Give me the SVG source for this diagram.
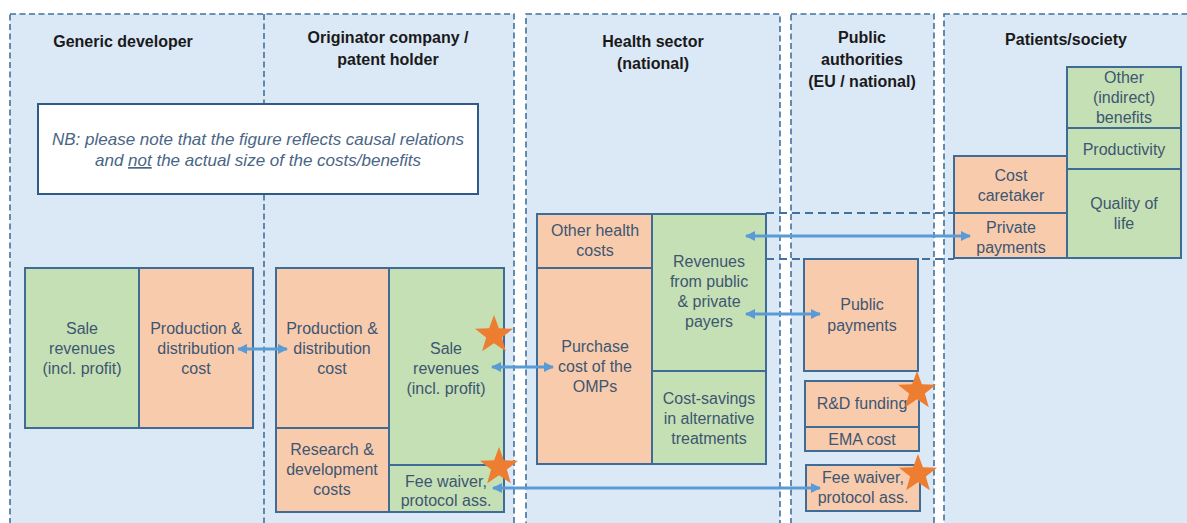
<svg xmlns="http://www.w3.org/2000/svg" width="1187" height="523" viewBox="0 0 1187 523">
<style>
.panel{fill:#dbe8f6;stroke:#41719c;stroke-width:1.6;stroke-dasharray:6 3.5}
.div{fill:none;stroke:#41719c;stroke-width:1.6;stroke-dasharray:6 3.5}
.dr{fill:none;stroke:#41719c;stroke-width:2;stroke-dasharray:8 5}
.g{fill:#c5e0b4;stroke:#3f6c96;stroke-width:2}
.o{fill:#f8cbad;stroke:#3f6c96;stroke-width:2}
.h{font-family:"Liberation Sans",Arial,sans-serif;font-size:16px;font-weight:bold;fill:#1a1a1a;text-anchor:middle}
.t{font-family:"Liberation Sans",Arial,sans-serif;font-size:16px;fill:#3d5672;text-anchor:middle}
.nb{font-family:"Liberation Sans",Arial,sans-serif;font-size:17px;font-style:italic;fill:#4a6585;text-anchor:middle}
.c{fill:none;stroke:#5b9bd5;stroke-width:3;marker-start:url(#ah);marker-end:url(#ah)}
.star{fill:#ed7d31}
</style>
<defs>
<marker id="ah" viewBox="0 0 10 10" refX="9" refY="5" markerUnits="userSpaceOnUse" markerWidth="11" markerHeight="10" orient="auto-start-reverse">
<path d="M0,0 L10,5 L0,10 z" fill="#5b9bd5"/>
</marker>
<polygon id="st" points="0,-20 4.9,-6.7 19,-6.2 7.9,2.6 11.8,16.2 0,8.3 -11.8,16.2 -7.9,2.6 -19,-6.2 -4.9,-6.7"/>
</defs>
<rect width="1187" height="523" fill="#ffffff"/>
<g id="panels">
<rect class="panel" x="10" y="14" width="504" height="530"/>
<line class="div" x1="264" y1="14" x2="264" y2="523"/>
<rect class="panel" x="526" y="14" width="254" height="530"/>
<rect class="panel" x="791" y="14" width="143" height="530"/>
<rect class="panel" x="944" y="14" width="260" height="530"/>
<text class="h" x="123" y="47">Generic developer</text>
<text class="h" x="388" y="43">Originator company /</text>
<text class="h" x="388" y="65">patent holder</text>
<text class="h" x="653" y="47">Health sector</text>
<text class="h" x="653" y="69">(national)</text>
<text class="h" x="862" y="43">Public</text>
<text class="h" x="862" y="65">authorities</text>
<text class="h" x="862" y="87">(EU / national)</text>
<text class="h" x="1066" y="45">Patients/society</text>
</g>
<g id="private-flow">
<line class="dr" x1="766" y1="213" x2="954" y2="213"/>
<line class="dr" x1="766" y1="259" x2="954" y2="259"/>
</g>
<g id="nb-note">
<rect x="38" y="104" width="440" height="90" fill="#ffffff" stroke="#2e5b88" stroke-width="2"/>
<text class="nb" x="258" y="145">NB: please note that the figure reflects causal relations</text>
<text class="nb" x="258" y="166">and <tspan text-decoration="underline">not</tspan> the actual size of the costs/benefits</text>
</g>
<g id="gen-sale-revenues">
<rect class="g" x="25" y="268" width="114" height="160"/>
<text class="t" x="82" y="334">Sale</text>
<text class="t" x="82" y="354">revenues</text>
<text class="t" x="82" y="374">(incl. profit)</text>
</g>
<g id="gen-production">
<rect class="o" x="139" y="268" width="114" height="160"/>
<text class="t" x="196" y="334">Production &amp;</text>
<text class="t" x="196" y="354">distribution</text>
<text class="t" x="196" y="374">cost</text>
</g>
<g id="orig-production">
<rect class="o" x="276" y="268" width="113" height="160"/>
<text class="t" x="332" y="334">Production &amp;</text>
<text class="t" x="332" y="354">distribution</text>
<text class="t" x="332" y="374">cost</text>
</g>
<g id="orig-research">
<rect class="o" x="276" y="428" width="113" height="84"/>
<text class="t" x="332" y="455">Research &amp;</text>
<text class="t" x="332" y="475">development</text>
<text class="t" x="332" y="495">costs</text>
</g>
<g id="orig-sale-revenues">
<rect class="g" x="389" y="268" width="115" height="197"/>
<text class="t" x="446" y="354">Sale</text>
<text class="t" x="446" y="374">revenues</text>
<text class="t" x="446" y="394">(incl. profit)</text>
</g>
<g id="orig-fee-waiver">
<rect class="g" x="389" y="465" width="115" height="47"/>
<text class="t" x="446" y="487">Fee waiver,</text>
<text class="t" x="446" y="506">protocol ass.</text>
</g>
<g id="hs-other-costs">
<rect class="o" x="537" y="214" width="115" height="54"/>
<text class="t" x="595" y="236">Other health</text>
<text class="t" x="595" y="256">costs</text>
</g>
<g id="hs-purchase">
<rect class="o" x="537" y="268" width="115" height="196"/>
<text class="t" x="595" y="352">Purchase</text>
<text class="t" x="595" y="372">cost of the</text>
<text class="t" x="595" y="392">OMPs</text>
</g>
<g id="hs-revenues">
<rect class="g" x="652" y="214" width="114" height="157"/>
<text class="t" x="709" y="267">Revenues</text>
<text class="t" x="709" y="287">from public</text>
<text class="t" x="709" y="307">&amp; private</text>
<text class="t" x="709" y="327">payers</text>
</g>
<g id="hs-cost-savings">
<rect class="g" x="652" y="371" width="114" height="93"/>
<text class="t" x="709" y="404">Cost-savings</text>
<text class="t" x="709" y="424">in alternative</text>
<text class="t" x="709" y="444">treatments</text>
</g>
<g id="pa-public-payments">
<rect class="o" x="804" y="259" width="114" height="112"/>
<text class="t" x="862" y="310">Public</text>
<text class="t" x="862" y="331">payments</text>
</g>
<g id="pa-rd-funding">
<rect class="o" x="805" y="381" width="114" height="46"/>
<text class="t" x="862" y="409">R&amp;D funding</text>
</g>
<g id="pa-ema-cost">
<rect class="o" x="805" y="427" width="114" height="24"/>
<text class="t" x="862" y="445">EMA cost</text>
</g>
<g id="pa-fee-waiver">
<rect class="o" x="806" y="465" width="114" height="46"/>
<text class="t" x="863" y="483">Fee waiver,</text>
<text class="t" x="863" y="503">protocol ass.</text>
</g>
<g id="ps-cost-caretaker">
<rect class="o" x="954" y="156" width="113" height="57"/>
<text class="t" x="1011" y="181">Cost</text>
<text class="t" x="1011" y="201">caretaker</text>
</g>
<g id="ps-private-payments">
<rect class="o" x="954" y="213" width="113" height="45"/>
<text class="t" x="1011" y="233">Private</text>
<text class="t" x="1011" y="253">payments</text>
</g>
<g id="ps-other-benefits">
<rect class="g" x="1067" y="67" width="114" height="61"/>
<text class="t" x="1124" y="83">Other</text>
<text class="t" x="1124" y="103">(indirect)</text>
<text class="t" x="1124" y="123">benefits</text>
</g>
<g id="ps-productivity">
<rect class="g" x="1067" y="128" width="114" height="41"/>
<text class="t" x="1124" y="155">Productivity</text>
</g>
<g id="ps-quality-of-life">
<rect class="g" x="1067" y="169" width="114" height="89"/>
<text class="t" x="1124" y="209">Quality of</text>
<text class="t" x="1124" y="229">life</text>
</g>
<g id="connectors">
<line class="c" x1="238" y1="349" x2="287" y2="349"/>
<line class="c" x1="492" y1="367" x2="553" y2="367"/>
<line class="c" x1="746" y1="314" x2="820" y2="314"/>
<line class="c" x1="746" y1="236" x2="970" y2="236"/>
<line class="c" x1="493" y1="488" x2="820" y2="488"/>
</g>
<g id="stars" class="star">
<use id="star-orig-sale" href="#st" transform="translate(494,335)"/>
<use id="star-orig-fee" href="#st" transform="translate(499,467)"/>
<use id="star-rd" href="#st" transform="translate(917,391)"/>
<use id="star-pa-fee" href="#st" transform="translate(918,474)"/>
</g>
</svg>
